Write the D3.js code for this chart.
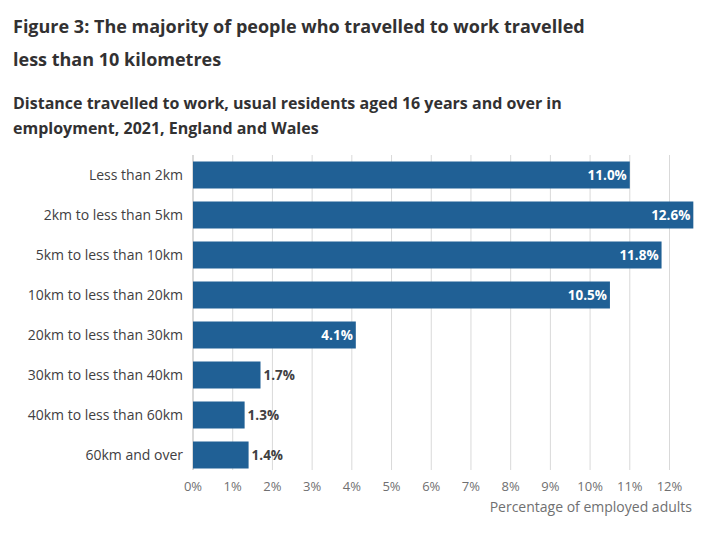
<!DOCTYPE html>
<html>
<head>
<meta charset="utf-8">
<script src="https://cdn.jsdelivr.net/npm/d3@7"></script>
<style>
  body { margin: 0; background: #fff; font-family: "Open Sans", sans-serif; }
  .title { font-weight: 700; fill: #323132; }
  .catLabel { fill: #414042; font-size: 14px; }
  .xTick { fill: #707071; font-size: 13px; }
</style>
</head>
<body>
<div id="chart"></div>
<script>
var categories = [
  "Less than 2km",
  "2km to less than 5km",
  "5km to less than 10km",
  "10km to less than 20km",
  "20km to less than 30km",
  "30km to less than 40km",
  "40km to less than 60km",
  "60km and over"
];
var values = [11.0, 12.6, 11.8, 10.5, 4.1, 1.7, 1.3, 1.4];
var tickValues = [0, 1, 2, 3, 4, 5, 6, 7, 8, 9, 10, 11, 12];

var width = 718;
var height = 539;
var plotLeft = 193;
var plotRight = 669.5;
var plotTop = 155;
var plotBottom = 470;

var svg = d3.select("#chart")
  .append("svg")
  .attr("width", width)
  .attr("height", height);

// titles
svg.append("text").attr("class", "title").attr("x", 13).attr("y", 33)
  .style("font-size", "18px").text("Figure 3: The majority of people who travelled to work travelled");
svg.append("text").attr("class", "title").attr("x", 13).attr("y", 66)
  .style("font-size", "18px").text("less than 10 kilometres");
svg.append("text").attr("class", "title").attr("x", 13).attr("y", 109)
  .style("font-size", "16px").text("Distance travelled to work, usual residents aged 16 years and over in");
svg.append("text").attr("class", "title").attr("x", 13).attr("y", 134)
  .style("font-size", "16px").text("employment, 2021, England and Wales");

var xScale = d3.scaleLinear().domain([0, 12]).range([plotLeft, plotRight]);
var yScale = d3.scaleBand().domain(categories).range([plotTop, plotTop + 320])
  .paddingInner(0.325).paddingOuter(0.1625);

// gridlines
svg.append("g")
  .selectAll("line")
  .data(tickValues)
  .enter()
  .append("line")
  .attr("x1", function(d) { return xScale(d); })
  .attr("x2", function(d) { return xScale(d); })
  .attr("y1", plotTop)
  .attr("y2", plotBottom)
  .attr("stroke", function(d) { return d === 0 ? "#b3b3b3" : "#d9d9d9"; })
  .attr("stroke-width", 1);

// x tick labels
svg.append("g")
  .selectAll("text")
  .data(tickValues)
  .enter()
  .append("text")
  .attr("class", "xTick")
  .attr("x", function(d) { return xScale(d); })
  .attr("y", 491)
  .attr("text-anchor", "middle")
  .text(function(d) { return d + "%"; });

svg.append("text")
  .attr("x", 692)
  .attr("y", 512)
  .attr("text-anchor", "end")
  .style("fill", "#707071")
  .style("font-size", "14px")
  .text("Percentage of employed adults");

// category labels
svg.append("g")
  .selectAll("text")
  .data(categories)
  .enter()
  .append("text")
  .attr("class", "catLabel")
  .attr("x", 183)
  .attr("y", function(d) { return yScale(d) + yScale.bandwidth() / 2; })
  .attr("dy", "0.35em")
  .attr("text-anchor", "end")
  .text(function(d) { return d; });

var data = categories.map(function(c, i) { return { cat: c, val: values[i] }; });

// bars
svg.append("g")
  .selectAll("rect")
  .data(data)
  .enter()
  .append("rect")
  .attr("x", xScale(0))
  .attr("y", function(d) { return yScale(d.cat); })
  .attr("width", function(d) { return xScale(d.val) - xScale(0); })
  .attr("height", yScale.bandwidth())
  .attr("fill", "#206095");

// value labels
svg.append("g")
  .selectAll("text")
  .data(data)
  .enter()
  .append("text")
  .attr("x", function(d) {
    return d.val > 3 ? xScale(d.val) - 3 : xScale(d.val) + 3;
  })
  .attr("y", function(d) { return yScale(d.cat) + yScale.bandwidth() / 2; })
  .attr("dy", "0.35em")
  .attr("text-anchor", function(d) { return d.val > 3 ? "end" : "start"; })
  .style("font-size", "13.5px")
  .style("font-weight", "700")
  .style("fill", function(d) { return d.val > 3 ? "#ffffff" : "#414042"; })
  .text(function(d) { return d.val.toFixed(1) + "%"; });
</script>
</body>
</html>
